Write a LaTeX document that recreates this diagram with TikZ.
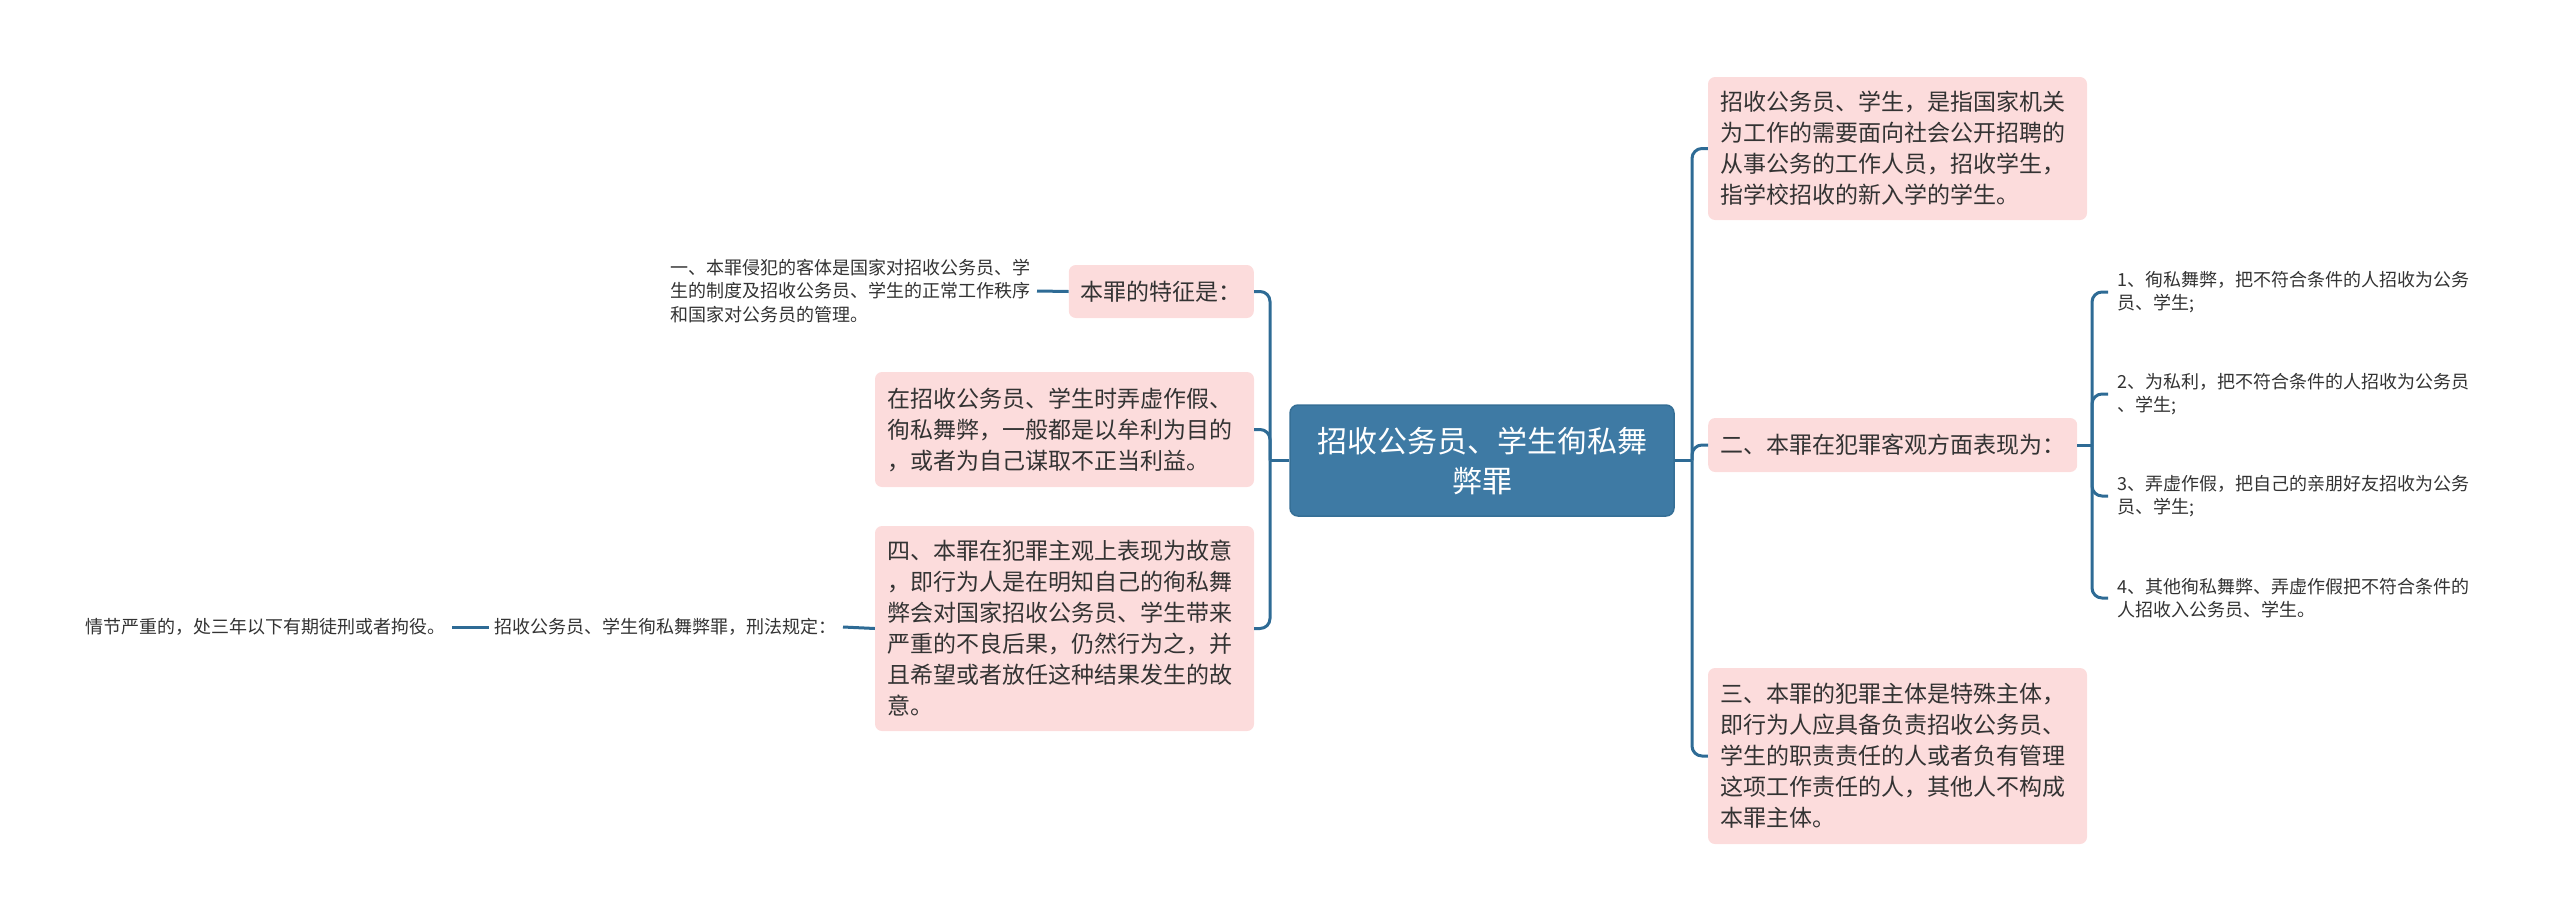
\documentclass[tikz,border=0pt]{standalone}
\usepackage{fontspec}
\newfontfamily\cjk{Noto Sans CJK SC}
\definecolor{lineblue}{HTML}{2E6B95}
\definecolor{rootfill}{HTML}{3E7AA4}
\definecolor{rootedge}{HTML}{356F96}
\definecolor{pinkfill}{HTML}{FCDCDC}
\definecolor{txt}{HTML}{333333}
\begin{document}
\begin{tikzpicture}[x=1pt,y=-1pt,
 root/.style={draw=rootedge, line width=1.5pt, fill=rootfill, rounded corners=8pt, text=white,
   font=\cjk\fontsize{30}{40}\selectfont, align=center, minimum width=384pt, minimum height=111pt, inner sep=0pt},
 pinkbox/.style={fill=pinkfill, rounded corners=7pt, text=txt, font=\cjk\fontsize{23}{31}\selectfont,
   align=left, inner xsep=12pt, inner ysep=0pt},
 widebox/.style={pinkbox, text width=355pt},
 leaf/.style={text=txt, font=\cjk\fontsize{18}{23.5}\selectfont, align=left, inner xsep=6pt, inner ysep=2pt},
 item/.style={leaf, inner xsep=9pt},
 conn/.style={draw=lineblue, line width=3pt, rounded corners=10pt}]
\useasboundingbox (0,0) rectangle (2560,921);

% root
\node[root] (root) at (1482,460.5) {招收公务员、学生徇私舞\\弊罪};

% right side
\node[widebox, minimum height=143pt] (b1) at (1897.5,148.5)
 {招收公务员、学生，是指国家机关\\为工作的需要面向社会公开招聘的\\从事公务的工作人员，招收学生，\\指学校招收的新入学的学生。};
\node[pinkbox, minimum height=54pt, anchor=west] (b2) at (1708,445) {二、本罪在犯罪客观方面表现为：};
\node[widebox, minimum height=176pt] (b3) at (1897.5,756)
 {三、本罪的犯罪主体是特殊主体，\\即行为人应具备负责招收公务员、\\学生的职责责任的人或者负有管理\\这项工作责任的人，其他人不构成\\本罪主体。};

\node[item, anchor=west] (i1) at (2108,292) {1、徇私舞弊，把不符合条件的人招收为公务\\员、学生;};
\node[item, anchor=west] (i2) at (2108,394) {2、为私利，把不符合条件的人招收为公务员\\、学生;};
\node[item, anchor=west] (i3) at (2108,496) {3、弄虚作假，把自己的亲朋好友招收为公务\\员、学生;};
\node[item, anchor=west] (i4) at (2108,598) {4、其他徇私舞弊、弄虚作假把不符合条件的\\人招收入公务员、学生。};

% left side
\node[pinkbox, minimum height=53pt, anchor=east] (l1) at (1254,291.5) {本罪的特征是：};
\node[widebox, minimum height=115pt] (l2) at (1064.5,429.5)
 {在招收公务员、学生时弄虚作假、\\徇私舞弊，一般都是以牟利为目的\\，或者为自己谋取不正当利益。};
\node[widebox, minimum height=205pt] (l3) at (1064.5,628.5)
 {四、本罪在犯罪主观上表现为故意\\，即行为人是在明知自己的徇私舞\\弊会对国家招收公务员、学生带来\\严重的不良后果，仍然行为之，并\\且希望或者放任这种结果发生的故\\意。};

\node[leaf, anchor=east] (t1) at (1037,291)
 {一、本罪侵犯的客体是国家对招收公务员、学\\生的制度及招收公务员、学生的正常工作秩序\\和国家对公务员的管理。};
\node[leaf, anchor=east] (t2) at (843,627) {招收公务员、学生徇私舞弊罪，刑法规定：};
\node[leaf, anchor=east] (t3) at (452,627) {情节严重的，处三年以下有期徒刑或者拘役。};

% connectors right
\coordinate (rj) at (1692,460.5);
\draw[conn] (root.east) -- (rj);
\draw[conn] (rj) |- (b1.west);
\draw[conn] (rj) |- (b2.west);
\draw[conn] (rj) |- (b3.west);
\coordinate (ij) at (2092,445);
\draw[conn] (b2.east) -- (ij);
\draw[conn] (ij) |- (i1.west);
\draw[conn] (ij) |- (i2.west);
\draw[conn] (ij) |- (i3.west);
\draw[conn] (ij) |- (i4.west);

% connectors left
\coordinate (lj) at (1270,460.5);
\draw[conn] (root.west) -- (lj);
\draw[conn] (lj) |- (l1.east);
\draw[conn] (lj) |- (l2.east);
\draw[conn] (lj) |- (l3.east);
\draw[conn] (t1.east) -- (l1.west);
\draw[conn] (t2.east) -- (l3.west);
\draw[conn] (t3.east) -- (t2.west);
\end{tikzpicture}
\end{document}
